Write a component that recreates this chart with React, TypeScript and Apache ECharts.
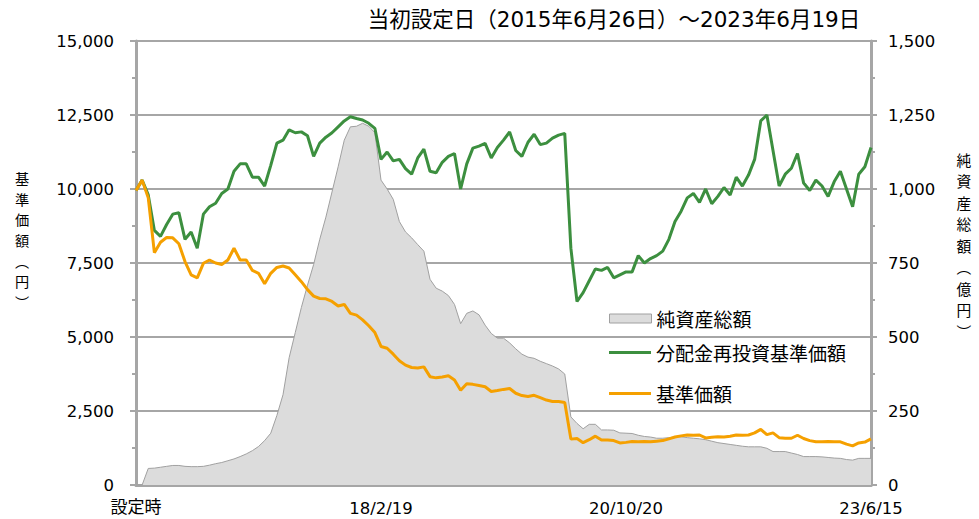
import React, { useEffect, useRef } from "react";
import * as echarts from "echarts";

// 純資産総額（億円）
const netAssets = [
  0, 0, 56, 57, 60, 63, 66, 66, 63, 62,
  62, 63, 67, 72, 76, 82, 88, 96, 105, 116,
  130, 150, 175, 235, 305, 430, 515, 600, 675, 745,
  830, 905, 990, 1075, 1165, 1210, 1212, 1222, 1212, 1190,
  1030, 1000, 965, 890, 855, 835, 812, 790, 695, 665,
  655, 640, 610, 545, 580, 588, 575, 540, 512, 496,
  496, 480, 460, 442, 432, 428, 418, 410, 402, 392,
  375, 230, 208, 190, 205, 205, 186, 186, 185, 176,
  175, 174, 168, 164, 162, 158, 158, 160, 162, 163,
  160, 158, 156, 153, 148, 143, 140, 137, 134, 131,
  129, 129, 129, 124, 113, 113, 113, 108, 103, 96,
  96, 96, 95, 93, 91, 90, 86, 84, 90, 90,
  90,
];

// 分配金再投資基準価額（円）
const reinvestedNav = [
  9950, 10300, 9800, 8600, 8400, 8800, 9150, 9200, 8300, 8550,
  8000, 9150, 9400, 9520, 9850, 10000, 10600, 10850, 10850, 10400,
  10400, 10100, 10800, 11550, 11650, 12000, 11900, 11930, 11800, 11100,
  11550, 11750, 11900, 12100, 12300, 12440, 12380, 12330, 12220, 12050,
  11000, 11250, 10950, 11000, 10690, 10500, 11050, 11350, 10600, 10550,
  10900, 11100, 11200, 10000, 10850, 11380, 11450, 11540, 11050, 11400,
  11650, 11930, 11300, 11100, 11580, 11850, 11500, 11550, 11720, 11820,
  11880, 8000, 6200, 6500, 6900, 7300, 7250, 7350, 7000, 7100,
  7200, 7200, 7750, 7500, 7650, 7750, 7900, 8300, 8900, 9250,
  9700, 9850, 9550, 10000, 9500, 9750, 10050, 9800, 10400, 10100,
  10470, 11000, 12300, 12500, 11300, 10100, 10500, 10700, 11200, 10200,
  9950, 10300, 10100, 9750, 10250, 10600, 10000, 9400, 10500, 10750,
  11400,
];

// 基準価額（円）
const nav = [
  9950, 10300, 9700, 7850, 8200, 8360, 8350, 8150, 7550, 7100,
  7000, 7490, 7600, 7500, 7450, 7600, 8000, 7600, 7600, 7250,
  7150, 6800, 7150, 7350, 7400, 7330, 7100, 6870, 6600, 6380,
  6300, 6290, 6200, 6050, 6100, 5800, 5740, 5580, 5380, 5150,
  4680, 4620, 4420, 4200, 4050, 3970, 3950, 3990, 3660, 3620,
  3650, 3690, 3550, 3200, 3420, 3400, 3360, 3320, 3160, 3190,
  3230, 3260, 3100, 3020, 2990, 3030, 2950, 2870, 2820, 2820,
  2790, 1550, 1570, 1430, 1530, 1650, 1520, 1520, 1500, 1420,
  1440, 1470, 1460, 1470, 1460, 1480, 1500, 1560, 1620, 1660,
  1690, 1680, 1690, 1590, 1610, 1630, 1620, 1650, 1690, 1680,
  1690, 1760, 1880, 1700, 1760, 1600, 1580, 1580, 1680, 1570,
  1500, 1460, 1460, 1470, 1460, 1460, 1380, 1320, 1420, 1450,
  1560,
];

const xTickLabels = ["設定時", "18/2/19", "20/10/20", "23/6/15"];
const seriesNames = ["純資産総額", "分配金再投資基準価額", "基準価額"];
const titleText = "当初設定日（2015年6月26日）～2023年6月19日";
const leftAxisName = "基\n準\n価\n額\n︵\n円\n︶";
const rightAxisName = "純\n資\n産\n総\n額\n︵\n億\n円\n︶";

const FONT = "'DejaVu Sans', 'Noto Sans CJK JP', sans-serif";
const JP_FONT = "'Noto Sans CJK JP', sans-serif";
const GRID_GRAY = "#a6a6a6";

export default function App() {
  const ref = useRef<HTMLDivElement>(null);
  useEffect(() => {
    if (!ref.current) return;
    const chart = echarts.init(ref.current, null, { renderer: "svg" });
    const n = nav.length;
    const cats = nav.map((_, i) => String(i));
    const labelStep = (n - 1) / (xTickLabels.length - 1);
    const tickStep = labelStep / 2;

    chart.setOption({
      animation: false,
      grid: { left: 136, right: 108, top: 41, bottom: 34, containLabel: false },
      graphic: [
        {
          type: "text",
          x: 614,
          y: 19,
          style: {
            text: titleText,
            fontSize: 21.5,
            fontFamily: FONT,
            fill: "#000",
            align: "center",
            verticalAlign: "middle",
          },
        },
        {
          type: "text",
          x: 22,
          y: 240,
          style: {
            text: leftAxisName,
            fontSize: 14.2,
            lineHeight: 20.6,
            fontFamily: JP_FONT,
            fill: "#000",
            align: "center",
            verticalAlign: "middle",
          },
        },
        {
          type: "text",
          x: 964,
          y: 245,
          style: {
            text: rightAxisName,
            fontSize: 14.8,
            lineHeight: 21.5,
            fontFamily: JP_FONT,
            fill: "#000",
            align: "center",
            verticalAlign: "middle",
          },
        },
      ],
      legend: [
        {
          data: [seriesNames[0]],
          orient: "vertical",
          left: 604,
          top: 304,
          itemWidth: 42,
          itemHeight: 9,
          icon: "rect",
          itemGap: 10,
          textStyle: { fontSize: 19, fontFamily: JP_FONT, color: "#000" },
          itemStyle: { color: "#dcdcdc", borderColor: "#a0a0a0", borderWidth: 1 },
        },
        {
          data: [seriesNames[1], seriesNames[2]],
          orient: "vertical",
          left: 604,
          top: 338,
          itemWidth: 42,
          itemHeight: 3,
          icon: "rect",
          itemGap: 22,
          textStyle: { fontSize: 19, fontFamily: JP_FONT, color: "#000" },
        },
      ],
      xAxis: {
        type: "category",
        data: cats,
        boundaryGap: false,
        axisLine: { lineStyle: { color: GRID_GRAY, width: 3 } },
        axisTick: {
          show: true,
          interval: (i: number) => i % tickStep === 0,
          length: 5,
          inside: true,
          lineStyle: { color: GRID_GRAY, width: 3 },
        },
        axisLabel: {
          interval: (i: number) => i % labelStep === 0,
          formatter: (v: string) => {
            const i = Number(v);
            if (i % labelStep !== 0) return "";
            const k = i / labelStep;
            return k === 0 ? `{jp|${xTickLabels[k]}}` : `{d|${xTickLabels[k]}}`;
          },
          rich: {
            jp: { fontSize: 17, lineHeight: 18, fontFamily: JP_FONT, color: "#000" },
            d: { fontSize: 16.5, lineHeight: 24, fontFamily: FONT, color: "#000" },
          },
          margin: 11,
          fontSize: 16.5,
          fontFamily: FONT,
          color: "#000",
          hideOverlap: false,
        },
        splitLine: { show: false },
      },
      yAxis: [
        {
          type: "value",
          min: 0,
          max: 15000,
          interval: 2500,
          position: "left",
          axisLine: { show: true, lineStyle: { color: GRID_GRAY, width: 3 } },
          axisTick: { show: true, length: 6, lineStyle: { color: GRID_GRAY, width: 2 } },
          minorTick: { show: true, splitNumber: 2, length: 4, lineStyle: { color: GRID_GRAY, width: 2 } },
          axisLabel: {
            margin: 22,
            fontSize: 16.5,
            fontFamily: FONT,
            color: "#000",
            formatter: (v: number) => v.toLocaleString("en-US"),
          },
          splitLine: { show: true, lineStyle: { color: GRID_GRAY, width: 2 } },
        },
        {
          type: "value",
          min: 0,
          max: 1500,
          interval: 250,
          position: "right",
          axisLine: { show: true, lineStyle: { color: GRID_GRAY, width: 3 } },
          axisTick: { show: true, length: 6, lineStyle: { color: GRID_GRAY, width: 2 } },
          minorTick: { show: true, splitNumber: 2, length: 4, lineStyle: { color: GRID_GRAY, width: 2 } },
          axisLabel: {
            margin: 17,
            fontSize: 16.5,
            fontFamily: FONT,
            color: "#000",
            formatter: (v: number) => v.toLocaleString("en-US"),
          },
          splitLine: { show: false },
        },
      ],
      series: [
        {
          name: seriesNames[0],
          type: "line",
          yAxisIndex: 1,
          data: netAssets,
          symbol: "none",
          lineStyle: { color: "#a0a0a0", width: 1 },
          itemStyle: { color: "#dcdcdc", borderColor: "#a0a0a0" },
          areaStyle: { color: "#dcdcdc", opacity: 1 },
          z: 1,
        },
        {
          name: seriesNames[1],
          type: "line",
          yAxisIndex: 0,
          data: reinvestedNav,
          symbol: "none",
          lineStyle: { color: "#3c8f3f", width: 3 },
          itemStyle: { color: "#3c8f3f" },
          z: 3,
        },
        {
          name: seriesNames[2],
          type: "line",
          yAxisIndex: 0,
          data: nav,
          symbol: "none",
          lineStyle: { color: "#f5a000", width: 3 },
          itemStyle: { color: "#f5a000" },
          z: 4,
        },
      ],
    });
    return () => chart.dispose();
  }, []);

  return (
    <div
      ref={ref}
      style={{ position: "absolute", left: 0, top: 0, width: 979, height: 519, background: "#fff" }}
    />
  );
}
